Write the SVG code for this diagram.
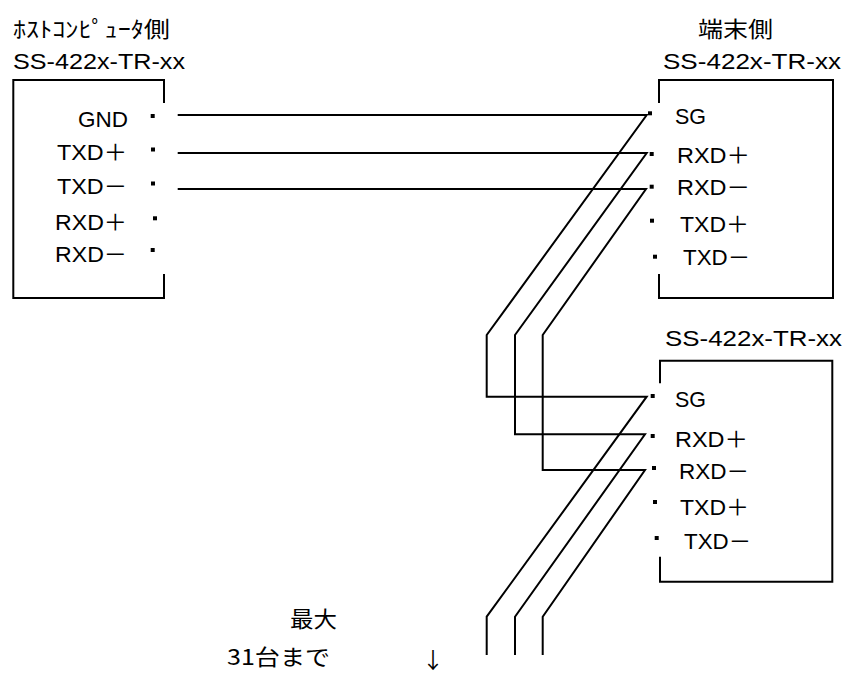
<svg xmlns="http://www.w3.org/2000/svg" width="847" height="673" viewBox="0 0 847 673">
<style>
text{font-family:"Liberation Sans","Noto Sans CJK JP",sans-serif;font-size:22px;fill:#000}
.j{font-family:"Noto Sans CJK JP","Liberation Sans",sans-serif}
.box,.wire{fill:none;stroke:#000;stroke-width:2}
</style>
<defs>
<rect id="pin" x="-2" y="-2" width="4" height="4" fill="#000"/>
</defs>
<rect width="847" height="673" fill="#fff"/>
<g id="connectors">
<path class="wire" d="M177.7,115 H646.7 L486.7,335 V396.7 H646.7 L486.7,616.7 V655"/>
<path class="wire" d="M177.7,153 H646.7 L515,335 V434.3 H645 L515,616.7 V655"/>
<path class="wire" d="M177.7,189 H646 L542.7,335 V470 H645 L542.7,616.7 V655"/>
</g>
<g id="host">
<text class="j" x="13" y="37" font-size="22" textLength="157" lengthAdjust="spacingAndGlyphs">ﾎｽﾄｺﾝﾋﾟｭｰﾀ側</text>
<text x="13" y="69" textLength="172" lengthAdjust="spacingAndGlyphs">SS-422x-TR-xx</text>
<path class="box" d="M164,103 V80 H13.3 V298 H164 V274"/>
<text x="78" y="127" textLength="50" lengthAdjust="spacingAndGlyphs">GND</text>
<text x="57" y="160" textLength="70" lengthAdjust="spacingAndGlyphs">TXD＋</text>
<text x="57" y="193.5" textLength="70" lengthAdjust="spacingAndGlyphs">TXD－</text>
<text x="55" y="230" textLength="72" lengthAdjust="spacingAndGlyphs">RXD＋</text>
<text x="55" y="262" textLength="72" lengthAdjust="spacingAndGlyphs">RXD－</text>
<use href="#pin" x="152.7" y="116"/>
<use href="#pin" x="153" y="149.5"/>
<use href="#pin" x="153" y="183.5"/>
<use href="#pin" x="155" y="218.3"/>
<use href="#pin" x="152.7" y="250"/>
</g>
<g id="terminal1">
<text class="j" x="698" y="37" textLength="75" lengthAdjust="spacingAndGlyphs">端末側</text>
<text x="663" y="69" textLength="178" lengthAdjust="spacingAndGlyphs">SS-422x-TR-xx</text>
<path class="box" d="M659,103 V80 H833 V298 H659 V274"/>
<text x="675" y="123.5" textLength="31" lengthAdjust="spacingAndGlyphs">SG</text>
<text x="677" y="163" textLength="73" lengthAdjust="spacingAndGlyphs">RXD＋</text>
<text x="677" y="195" textLength="73" lengthAdjust="spacingAndGlyphs">RXD－</text>
<text x="680" y="232" textLength="69" lengthAdjust="spacingAndGlyphs">TXD＋</text>
<text x="683" y="265" textLength="67" lengthAdjust="spacingAndGlyphs">TXD－</text>
<use href="#pin" x="650" y="113.3"/>
<use href="#pin" x="651.7" y="154"/>
<use href="#pin" x="651.7" y="186.7"/>
<use href="#pin" x="652" y="220.7"/>
<use href="#pin" x="655" y="256.7"/>
</g>
<g id="terminal2">
<text x="665" y="346" textLength="177" lengthAdjust="spacingAndGlyphs">SS-422x-TR-xx</text>
<path class="box" d="M660,383.3 V360.7 H832.3 V581.7 H660 V556.7"/>
<text x="675" y="406.5" textLength="31" lengthAdjust="spacingAndGlyphs">SG</text>
<text x="675" y="446.5" textLength="73" lengthAdjust="spacingAndGlyphs">RXD＋</text>
<text x="679" y="478.5" textLength="70" lengthAdjust="spacingAndGlyphs">RXD－</text>
<text x="680" y="514.5" textLength="69" lengthAdjust="spacingAndGlyphs">TXD＋</text>
<text x="684" y="548.5" textLength="67" lengthAdjust="spacingAndGlyphs">TXD－</text>
<use href="#pin" x="652.7" y="396"/>
<use href="#pin" x="652.7" y="436"/>
<use href="#pin" x="654" y="468"/>
<use href="#pin" x="655" y="502"/>
<use href="#pin" x="656.7" y="538"/>
</g>
<g id="note">
<text class="j" x="290" y="627" font-size="23" textLength="47" lengthAdjust="spacingAndGlyphs">最大</text>
<text class="j" x="227" y="665" font-size="23" textLength="103" lengthAdjust="spacingAndGlyphs">31台まで</text>
<text class="j" x="433" y="668" font-size="21" text-anchor="middle">↓</text>
</g>
</svg>
